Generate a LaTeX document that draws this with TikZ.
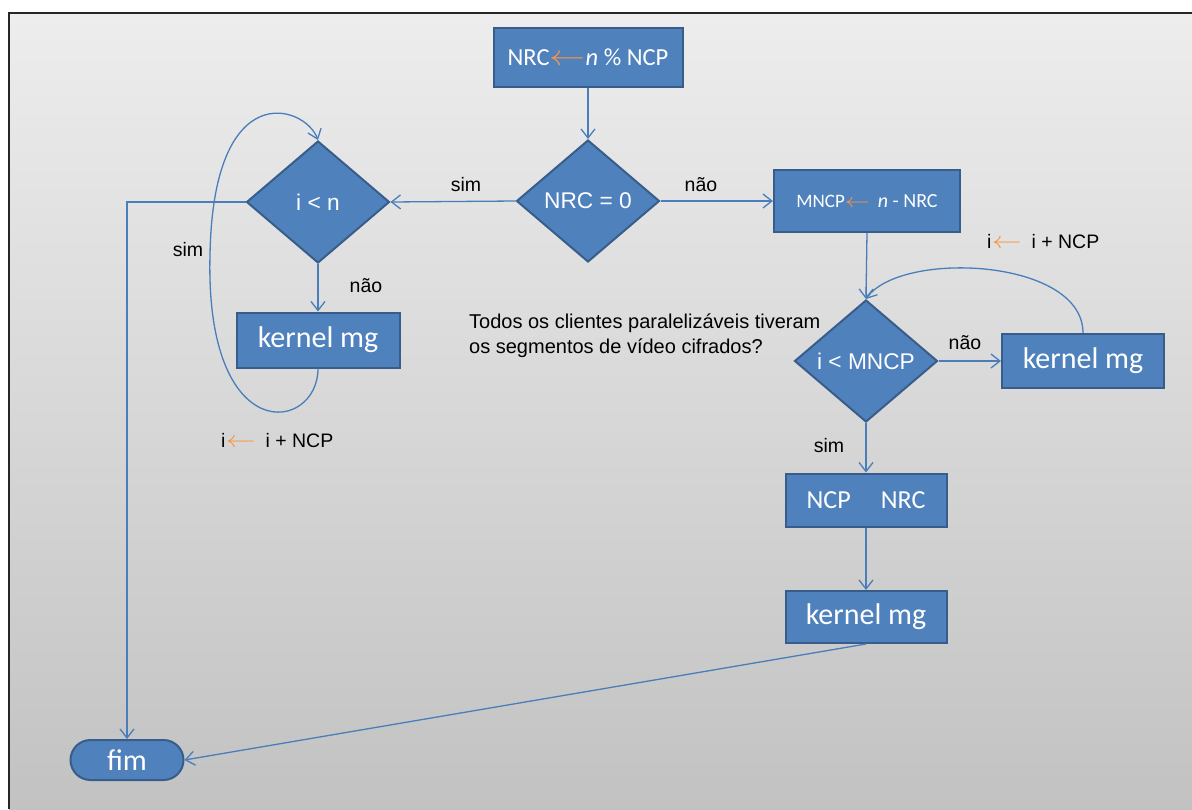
\documentclass[tikz,border=0pt]{standalone}
\usepackage{fontspec}
\setmainfont{Liberation Sans}
\newfontfamily\boxfont{Carlito}
\usetikzlibrary{shapes.geometric,arrows.meta}
\definecolor{boxblue}{HTML}{4F81BD}
\definecolor{boxedge}{HTML}{385D8A}
\definecolor{linkblue}{HTML}{4A7EBB}
\definecolor{assign}{HTML}{F79646}
\definecolor{bgtop}{HTML}{EDEDED}
\definecolor{bgbot}{HTML}{C2C2C2}
% orange assignment arrow, stretched to the width used in the flowchart
\newcommand{\assignarrow}{\textcolor{assign}{\scalebox{1.45}[1.15]{$\leftarrow$}}}
\begin{document}
\begin{tikzpicture}[x=1pt,y=-1pt,
  proc/.style={draw=boxedge,fill=boxblue,line width=2pt,text=white,font=\boxfont,inner sep=0pt},
  test/.style={diamond,draw=boxedge,fill=boxblue,line width=2pt,text=white,inner sep=0pt,
    minimum width=143,minimum height=122,font=\fontsize{22.7}{26}\selectfont},
  link/.style={draw=linkblue,line width=1.3pt,-{Straight Barb[length=9pt,width=14pt]}},
  lbl/.style={font=\fontsize{19.5}{23}\selectfont,text=black,inner sep=0pt}]
\useasboundingbox (0,0) rectangle (1192,809);
\clip (0,0) rectangle (1192,809);
% page background and frame
\fill[white] (0,0) rectangle (1192,809);
\shade[top color=bgtop,bottom color=bgbot] (9,13) rectangle (1192,809);
\draw[line width=2pt,black!85] (9,809) -- (9,13) -- (1192,13);

% nodes
\node[proc,minimum width=189,minimum height=59] (nrc) at (588,57)
  {\fontsize{24.5}{28}\selectfont NRC\assignarrow\emph{n} \% NCP};
\node[test] (t0) at (588,201) {NRC = 0};
\node[test] (tl) at (318,202) {i < n};
\node[proc,minimum width=163,minimum height=55,font=\boxfont\fontsize{30}{34}\selectfont] (kl) at (318,340) {kernel mg};
\node[proc,minimum width=186,minimum height=62] (mncp) at (867,201)
  {\fontsize{19}{23}\selectfont MNCP\assignarrow\hspace{8pt}\fontsize{20}{24}\selectfont\emph{n} - NRC};
\node[test] (tr) at (866,361) {i < MNCP};
\node[proc,minimum width=162,minimum height=54,font=\boxfont\fontsize{30}{34}\selectfont] (kr) at (1083,361) {kernel mg};
\node[proc,minimum width=161,minimum height=53,font=\boxfont\fontsize{26}{30}\selectfont] (nn) at (866,500) {NCP\hspace{30pt}NRC};
\node[proc,minimum width=161,minimum height=52,font=\boxfont\fontsize{30}{34}\selectfont] (kb) at (866,617) {kernel mg};
\node[proc,rounded corners=20pt,minimum width=113,minimum height=40,font=\boxfont\fontsize{30}{34}\selectfont] (fim) at (127,760) {fim};

% labels
\node[lbl] (s0) at (466,185) {sim};
\node[lbl] (n0) at (701,185) {não};
\node[lbl] (s1) at (188,250) {sim};
\node[lbl] (n1) at (366,286) {não};
\node[lbl,anchor=west] (incl) at (221,441) {i\assignarrow\hspace{10pt}i + NCP};
\node[lbl,anchor=west] (incr) at (987,242) {i\assignarrow\hspace{10pt}i + NCP};
\node[lbl] (n2) at (965,343) {não};
\node[lbl] (s2) at (829,446) {sim};
\node[lbl,anchor=north west,align=left,font=\fontsize{20}{25}\selectfont] (q) at (469,314)
  {Todos os clientes paralelizáveis tiveram\\os segmentos de vídeo cifrados?};

% connectors
\coordinate (lc) at (127,202);
\draw[link] (nrc.south) -- (t0.north);
\draw[link] (t0.west) -- (tl.east);
\draw[link] (t0.east) -- (mncp.west);
\draw[link] (tl.south) -- (kl.north);
\draw[link] (kl.south) .. controls (318,432) and (205,450) .. (210,255)
  .. controls (213,75) and (305,105) .. (tl.north);
\draw[link] (tl.west) -- (lc) -- (fim.north);
\draw[link] (mncp.south) -- (tr.north);
\draw[link] (tr.east) -- (kr.west);
\draw[link] (kr.north) .. controls (1083,258) and (900,250) .. (tr.north);
\draw[link] (tr.south) -- (nn.north);
\draw[link] (nn.south) -- (kb.north);
\draw[link] (kb.south) -- (fim.east);
\end{tikzpicture}
\end{document}
